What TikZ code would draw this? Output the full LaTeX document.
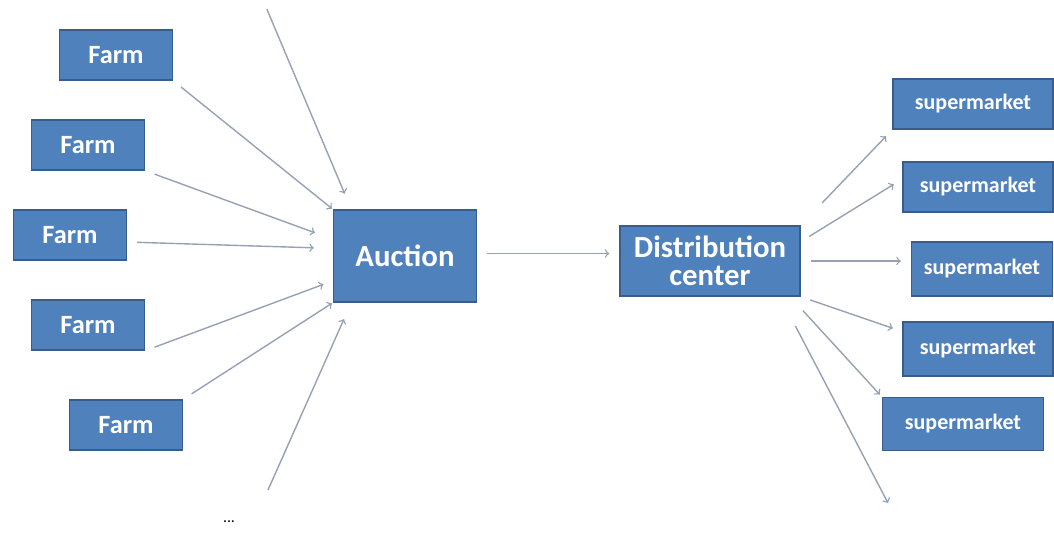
\documentclass[tikz,border=0pt]{standalone}
\usepackage{fontspec}
\setmainfont{Carlito}
\definecolor{boxblue}{RGB}{79,129,189}
\definecolor{boxline}{RGB}{56,93,138}
\definecolor{flowgray}{RGB}{150,162,180}

\begin{document}
\begin{tikzpicture}[x=0.02cm,y=-0.02cm,
  box/.style={rectangle,draw=boxline,line width=0.8pt,fill=boxblue,text=white,inner sep=0pt},
  farm/.style={box,minimum width=2.26cm,minimum height=1cm,font=\bfseries\fontsize{15}{17}\selectfont},
  hub/.style={box,font=\bfseries\fontsize{17.5}{19}\selectfont,align=center},
  shop/.style={box,minimum width=3.0cm,minimum height=1cm,font=\bfseries\fontsize{12.5}{14}\selectfont},
  flow/.style={->,draw=flowgray,line width=0.8pt,shorten <=0.2cm,shorten >=0.2cm}]
\useasboundingbox (0,0) rectangle (1054,533);

% farms
\node[farm] (f1) at (116,55) {Farm};
\node[farm] (f2) at (88,145) {Farm};
\node[farm] (f3) at (70,235) {Farm};
\node[farm] (f4) at (88,325) {Farm};
\node[farm] (f5) at (126,425) {Farm};
\coordinate (in1) at (263,0);
\coordinate (in2) at (268,490);
\node[font=\fontsize{9}{10}\selectfont] (more1) at (229,522) {...};

% middle
\node[hub,minimum width=2.86cm,minimum height=1.84cm] (auction) at (405,256) {Auction};
\node[hub,minimum width=3.6cm,minimum height=1.4cm] (dist) at (710,261) {Distribution\\[-3pt]center};

% supermarkets
\node[shop,minimum width=3.2cm] (s1) at (973,104) {supermarket};
\node[shop] (s2) at (978,187) {supermarket};
\node[shop,minimum width=2.82cm,minimum height=1.08cm] (s3) at (982,269) {supermarket};
\node[shop,minimum height=1.08cm] (s4) at (978,349) {supermarket};
\node[shop,minimum width=3.22cm,minimum height=1.06cm] (s5) at (963,424) {supermarket};
\coordinate (out1) at (888,503);

\draw[flow,shorten >=0.34cm] (in1) -- (auction.139);
\draw[flow,shorten >=0.02cm] (f1.south east) -- (auction.north west);
\draw[flow,shorten >=0.38cm] (f2.south east) -- (auction.167);
\draw[flow,shorten >=0.38cm] (f3.353) -- (auction.174);
\draw[flow] (f4.south east) -- (auction.199);
\draw[flow,shorten >=0.02cm] (f5.north east) -- (auction.south west);
\draw[flow,shorten <=0pt,shorten >=0.36cm] (in2) -- (auction.221);
\draw[flow] (auction.2) -- (auction.2 -| dist.west);

\draw[flow,shorten <=0.62cm,shorten >=0.18cm] (dist.north east) -- (s1.south west);
\draw[flow] (dist.12) -- (s2.174);
\draw[flow] (dist.east) -- (dist.east -| s3.west);
\draw[flow] (dist.south east) -- (s4.167);
\draw[flow,shorten <=0.38cm,shorten >=0.06cm] (dist.336) -- (s5.north west);
\draw[flow,shorten <=0.66cm,shorten >=0pt] (dist.333) -- (out1);
\end{tikzpicture}
\end{document}
